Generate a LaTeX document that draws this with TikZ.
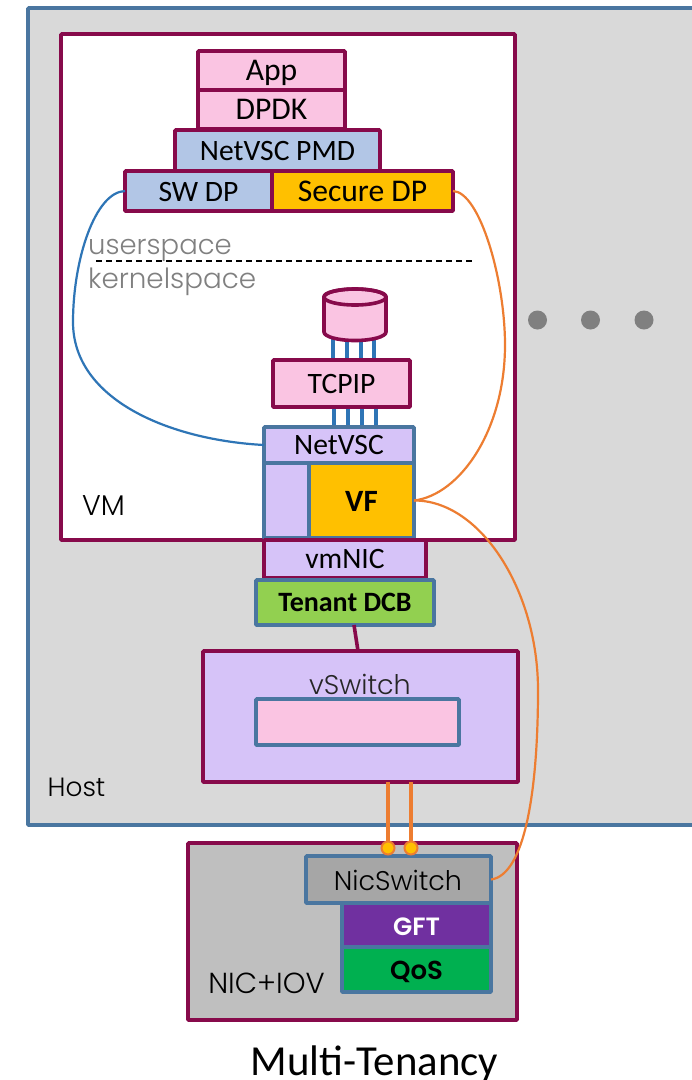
\documentclass[tikz,border=0pt]{standalone}
\usepackage{fontspec}
\setmainfont{Carlito}
\newfontfamily\gothic{Poppins Light}
\newfontfamily\gothicb{Poppins SemiBold}
\definecolor{crim}{HTML}{870A4B}
\definecolor{steel}{HTML}{4A76A0}
\definecolor{pinkf}{HTML}{FAC4E2}
\definecolor{lav}{HTML}{D6C3F8}
\definecolor{bluef}{HTML}{B2C6E6}
\definecolor{amber}{HTML}{FFC000}
\definecolor{gre}{HTML}{92D050}
\definecolor{linkblue}{HTML}{2E75B6}
\definecolor{linkor}{HTML}{ED7D31}
\definecolor{hostf}{HTML}{D9D9D9}
\definecolor{nicf}{HTML}{BFBFBF}
\definecolor{nsw}{HTML}{A6A6A6}
\definecolor{gftf}{HTML}{7030A0}
\definecolor{qosf}{HTML}{00B050}
\newcommand\bx[7]{%
  \pgfmathsetmacro\bw{#4-#2}\pgfmathsetmacro\bh{#5-#3}%
  \pgfmathsetmacro\bcx{(#4+#2)/2}\pgfmathsetmacro\bcy{(#5+#3)/2}%
  \node[basebox,#6,minimum width=\bw pt,minimum height=\bh pt] (#1) at (\bcx,\bcy) {#7};}
\tikzset{
  basebox/.style={draw,line width=3.6pt,inner sep=0pt,outer sep=0pt,rounded corners=0.8pt,align=center,text=black,text height=20pt,text depth=0pt,font=\fontsize{29.6}{31}\selectfont},
  large/.style={font=\fontsize{31.6}{33}\selectfont,text height=20pt},
  crimbox/.style={draw=crim},
  steelbox/.style={draw=steel},
  linkb/.style={draw=linkblue,line width=2.2pt},
  linko/.style={draw=linkor,line width=2.2pt},
  bundle/.style={draw=linkblue,line width=3.6pt},
  gothiclabel/.style={font=\gothic\fontsize{27}{29}\selectfont,inner sep=0pt},
  dotgray/.style={circle,fill=black!50,minimum size=19pt,inner sep=0pt},
  joint/.style={circle,draw=linkor,fill=amber,line width=2pt,minimum size=13pt,inner sep=0pt}
}
\begin{document}
\begin{tikzpicture}[x=1pt,y=-1pt]
\useasboundingbox (0,0) rectangle (692,1080);
\fill[white] (0,0) rectangle (692,1080);
\begin{scope}
\clip (0,0) rectangle (692,1080);
\bx{host}{28}{8}{720}{825}{steelbox,fill=hostf}{}
\end{scope}
\bx{vm}{61}{34}{515}{540}{crimbox,fill=white}{}
\node[gothiclabel,font=\gothic\fontsize{28.5}{30}\selectfont] (vmt) at (103.5,506) {VM};
\node[gothiclabel,font=\gothic\fontsize{26.4}{28}\selectfont] (hostt) at (76.5,787) {Host};
\bx{vswitch}{203}{651}{518}{782}{crimbox,fill=lav}{}
\node[gothiclabel,text=black!85] (vst) at (360,684) {vSwitch};
\bx{inner}{256}{699}{459}{745}{steelbox,fill=pinkf}{}
\bx{nic}{188}{843}{517}{1020}{crimbox,fill=nicf}{}
\node[gothiclabel,font=\gothic\fontsize{29}{31}\selectfont] (nict) at (266.5,983) {NIC+IOV};
% dots
\node[dotgray] (d1) at (537.5,320) {};
\node[dotgray] (d2) at (590.5,320) {};
\node[dotgray] (d3) at (644,320) {};
% stack
\bx{app}{198}{51}{345}{90}{crimbox,fill=pinkf,large}{App}
\bx{dpdk}{198}{90}{345}{129}{crimbox,fill=pinkf,large}{DPDK}
\bx{pmd}{175}{130}{380}{171}{crimbox,fill=bluef}{NetVSC PMD}
\bx{swdp}{125}{171}{272}{211}{crimbox,fill=bluef}{SW DP}
\bx{secdp}{272}{171}{453}{211}{crimbox,fill=amber,large}{Secure DP}
\node[gothiclabel,font=\gothic\fontsize{27.5}{29}\selectfont,text=black!50,anchor=base west] (us) at (88,254) {userspace};
\node[gothiclabel,font=\gothic\fontsize{27.8}{29}\selectfont,text=black!50,anchor=base west] (ks) at (88,288) {kernelspace};
\coordinate (dashl) at (96,261);
\coordinate (dashr) at (473,261);
\draw[line width=1.6pt,dash pattern=on 6pt off 4pt] (dashl) -- (dashr);
% bundles
\foreach \a/\b in {333/334,347/348,361/362,374/376}{
  \draw[bundle] (\a,338) -- (\a,361);
  \draw[bundle] (\b,406) -- (\b,428);
}
% disk
\coordinate (cyltop) at (355,297);
\coordinate (cylbot) at (355,332);
\draw[crim,fill=pinkf,line width=3.6pt] (324,297) -- (324,332) arc[start angle=180,end angle=360,x radius=31pt,y radius=8.5pt] -- (386,297) arc[start angle=0,end angle=180,x radius=31pt,y radius=8pt] -- cycle;
\draw[crim,line width=3.6pt] (cyltop) ellipse[x radius=31pt,y radius=8pt];
\bx{tcpip}{273}{360}{410}{407}{crimbox,fill=pinkf}{TCPIP}
\bx{netvsc}{264}{427}{414}{463}{steelbox,fill=lav,text height=19pt}{NetVSC}
\bx{left}{264}{463}{309}{538}{steelbox,fill=lav}{}
\bx{vf}{309}{463}{414}{538}{steelbox,fill=amber,font=\bfseries\fontsize{31}{33}\selectfont,text height=21pt}{VF}
\bx{vmnic}{264}{540}{426}{578}{crimbox,fill=lav,text height=19pt}{vmNIC}
\bx{dcb}{256}{580}{434}{625}{steelbox,fill=gre,font=\bfseries\fontsize{28}{30}\selectfont,text height=18pt}{Tenant DCB}
\draw[crim,line width=3.6pt] (dcb.south) ++(9,0) coordinate (dcbo) -- (vswitch.north -| 358,0);
% NIC stack
\bx{nicsw}{306}{856}{491}{903}{steelbox,fill=nsw}{}
\node[gothiclabel] (nswt) at (398,880) {NicSwitch};
\bx{gft}{342}{903}{491}{947}{steelbox,fill=gftf,text=white,font=\gothicb\fontsize{25}{27}\selectfont,text height=20pt}{GFT}
\bx{qos}{342}{947}{491}{992}{steelbox,fill=qosf,font=\gothicb\fontsize{26}{28}\selectfont,text height=20pt}{QoS}
% joints
\node[joint] (j1) at (388,848) {};
\node[joint] (j2) at (411,848) {};
\draw[draw=linkor,line width=4pt] (vswitch.south -| j1) -- (j1.north);
\draw[draw=linkor,line width=4pt] (vswitch.south -| j2) -- (j2.north);
% curved links
\draw[linkb] (swdp.west) .. controls (95,192) and (73,260) .. (73,322) .. controls (73,400) and (170,440) .. (netvsc.west);
\draw[linko] (secdp.east) .. controls (480,192) and (505,280) .. (505,345) .. controls (505,430) and (460,495) .. (vf.east);
\draw[linko] (vf.east) .. controls (480,500) and (538,590) .. (538,690) .. controls (538,790) and (525,875) .. (nicsw.east);
\node[font=\fontsize{42.8}{45}\selectfont,inner sep=0pt,anchor=base] (title) at (374.5,1075) {Multi-Tenancy};
\end{tikzpicture}
\end{document}
